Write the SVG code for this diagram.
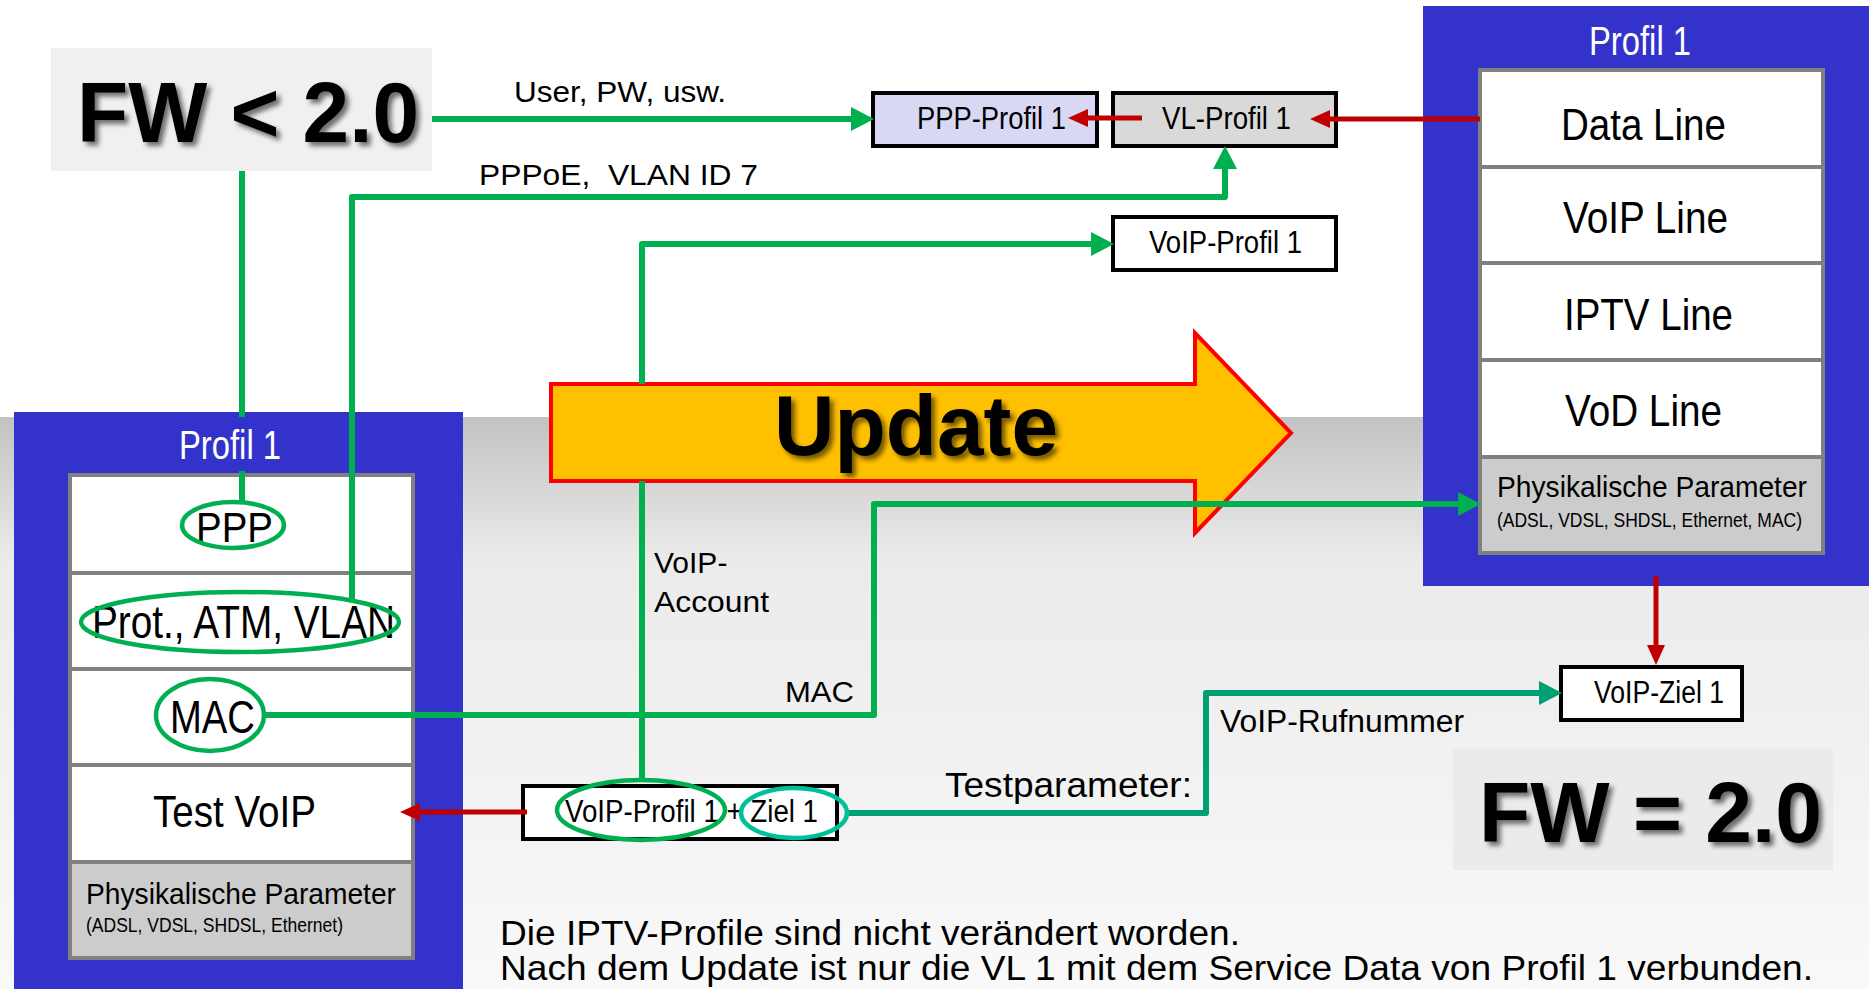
<svg xmlns="http://www.w3.org/2000/svg" width="1869" height="989" viewBox="0 0 1869 989">
<defs>
<linearGradient id="band" x1="0" y1="0" x2="0" y2="1">
<stop offset="0" stop-color="#c2c2c2"/>
<stop offset="0.25" stop-color="#ebebeb"/>
<stop offset="0.6" stop-color="#f1f1f1"/>
<stop offset="1" stop-color="#f9f9f9"/>
</linearGradient>
<filter id="sh" x="-10%" y="-20%" width="130%" height="150%">
<feDropShadow dx="4" dy="4" stdDeviation="2.5" flood-color="#000" flood-opacity="0.55"/>
</filter>
<marker id="ag" markerUnits="userSpaceOnUse" markerWidth="24" markerHeight="24" refX="0" refY="12" orient="auto" viewBox="0 0 24 24">
<path d="M0,0 L23,12 L0,24 z" fill="#00b050"/>
</marker>
<marker id="at" markerUnits="userSpaceOnUse" markerWidth="24" markerHeight="24" refX="0" refY="12" orient="auto" viewBox="0 0 24 24">
<path d="M0,0 L23,12 L0,24 z" fill="#009e73"/>
</marker>
<marker id="ar" markerUnits="userSpaceOnUse" markerWidth="20" markerHeight="18" refX="0" refY="9" orient="auto" viewBox="0 0 20 18">
<path d="M0,0 L20,9 L0,18 z" fill="#c00000"/>
</marker>
</defs>
<style>
.t{font-family:"Liberation Sans",Arial,sans-serif;fill:#000}
.w{fill:#fff}
.b{font-weight:bold}
.panel{fill:#3333cc}
.row{fill:#fff;stroke:#808080;stroke-width:4}
.phys{fill:#cccccc;stroke:#808080;stroke-width:4}
.box{stroke:#000;stroke-width:4}
.g{fill:none;stroke:#00b050;stroke-width:6;stroke-linejoin:round}
.tl{fill:none;stroke:#009e73;stroke-width:6;stroke-linejoin:round}
.r{fill:none;stroke:#c00000;stroke-width:5}
.el{fill:none;stroke:#00b050;stroke-width:4.5}
.el2{fill:none;stroke:#00c09a;stroke-width:4.5}
</style>
<rect x="0" y="0" width="1869" height="989" fill="#fff"/>
<rect x="0" y="417" width="1869" height="572" fill="url(#band)"/>

<g id="fw-old">
<rect x="51" y="48" width="381" height="123" fill="#f0f0f0"/>
<text class="t b" x="77" y="142" font-size="86" textLength="342" lengthAdjust="spacingAndGlyphs" filter="url(#sh)">FW &lt; 2.0</text>
</g>

<g id="fw-new">
<rect x="1453" y="748" width="380" height="122" fill="#ebebeb"/>
<text class="t b" x="1479" y="842" font-size="86" textLength="343" lengthAdjust="spacingAndGlyphs" filter="url(#sh)">FW = 2.0</text>
</g>

<g id="profil-left">
<rect class="panel" x="14" y="412" width="449" height="577"/>
<text class="t w" x="179" y="459" font-size="40" textLength="102" lengthAdjust="spacingAndGlyphs">Profil 1</text>
<rect class="row" x="70" y="475" width="343" height="98"/>
<rect class="row" x="70" y="573" width="343" height="96"/>
<rect class="row" x="70" y="669" width="343" height="96"/>
<rect class="row" x="70" y="765" width="343" height="97"/>
<rect class="phys" x="70" y="862" width="343" height="96"/>
<text class="t" x="196" y="542" font-size="43" textLength="77" lengthAdjust="spacingAndGlyphs">PPP</text>
<text class="t" x="92" y="638" font-size="46" textLength="303" lengthAdjust="spacingAndGlyphs">Prot., ATM, VLAN</text>
<text class="t" x="170" y="733" font-size="46" textLength="85" lengthAdjust="spacingAndGlyphs">MAC</text>
<text class="t" x="153" y="827" font-size="45" textLength="163" lengthAdjust="spacingAndGlyphs">Test VoIP</text>
<text class="t" x="86" y="904" font-size="30" textLength="310" lengthAdjust="spacingAndGlyphs">Physikalische Parameter</text>
<text class="t" x="86" y="932" font-size="20" textLength="257" lengthAdjust="spacingAndGlyphs">(ADSL, VDSL, SHDSL, Ethernet)</text>
</g>

<g id="profil-right">
<rect class="panel" x="1423" y="6" width="446" height="580"/>
<text class="t w" x="1589" y="55" font-size="40" textLength="102" lengthAdjust="spacingAndGlyphs">Profil 1</text>
<rect class="row" x="1480" y="70" width="343" height="97"/>
<rect class="row" x="1480" y="167" width="343" height="96"/>
<rect class="row" x="1480" y="263" width="343" height="97"/>
<rect class="row" x="1480" y="360" width="343" height="97"/>
<rect class="phys" x="1480" y="457" width="343" height="96"/>
<text class="t" x="1561" y="140" font-size="45" textLength="165" lengthAdjust="spacingAndGlyphs">Data Line</text>
<text class="t" x="1563" y="233" font-size="45" textLength="165" lengthAdjust="spacingAndGlyphs">VoIP Line</text>
<text class="t" x="1564" y="330" font-size="45" textLength="169" lengthAdjust="spacingAndGlyphs">IPTV Line</text>
<text class="t" x="1565" y="426" font-size="45" textLength="157" lengthAdjust="spacingAndGlyphs">VoD Line</text>
<text class="t" x="1497" y="497" font-size="30" textLength="310" lengthAdjust="spacingAndGlyphs">Physikalische Parameter</text>
<text class="t" x="1497" y="527" font-size="20" textLength="305" lengthAdjust="spacingAndGlyphs">(ADSL, VDSL, SHDSL, Ethernet, MAC)</text>
</g>

<g id="ppp-profil">
<rect class="box" x="873" y="93" width="224" height="53" fill="#d8d8f4"/>
<text class="t" x="917" y="129" font-size="31" textLength="149" lengthAdjust="spacingAndGlyphs">PPP-Profil 1</text>
</g>
<g id="vl-profil">
<rect class="box" x="1113" y="93" width="223" height="53" fill="#d9d9d9"/>
<text class="t" x="1162" y="129" font-size="31" textLength="129" lengthAdjust="spacingAndGlyphs">VL-Profil 1</text>
</g>
<g id="voip-profil-top">
<rect class="box" x="1113" y="217" width="223" height="53" fill="#fff"/>
<text class="t" x="1149" y="253" font-size="31" textLength="153" lengthAdjust="spacingAndGlyphs">VoIP-Profil 1</text>
</g>
<g id="voip-ziel">
<rect class="box" x="1561" y="667" width="181" height="53" fill="#fff"/>
<text class="t" x="1594" y="703" font-size="31" textLength="130" lengthAdjust="spacingAndGlyphs">VoIP-Ziel 1</text>
</g>
<g id="voip-test">
<rect class="box" x="523" y="786" width="314" height="53" fill="#fff"/>
<text class="t" x="565" y="822" font-size="31" textLength="253" lengthAdjust="spacingAndGlyphs">VoIP-Profil 1 + Ziel 1</text>
</g>

<g id="update">
<path d="M551,384 H1195 V333 L1291,433 L1195,533 V481 H551 z" fill="#ffc000" stroke="#ff0000" stroke-width="4"/>
<text class="t b" x="774" y="455" font-size="85" textLength="284" lengthAdjust="spacingAndGlyphs" filter="url(#sh)">Update</text>
</g>

<g id="connectors">
<path class="g" d="M432,119 H851" marker-end="url(#ag)"/>
<path class="g" d="M242,171 V417"/>
<path class="g" d="M242,471 V502"/>
<path class="g" d="M352,601 V197 H1225 V169" marker-end="url(#ag)"/>
<path class="g" d="M642,780 V481"/>
<path class="g" d="M642,384 V244 H1091" marker-end="url(#ag)"/>
<path class="g" d="M265,715 H874 V504 H1458" marker-end="url(#ag)"/>
<path class="tl" d="M848,813 H1206 V693 H1539" marker-end="url(#at)"/>
<path class="r" d="M1480,119 H1330" marker-end="url(#ar)"/>
<path class="r" d="M1142,118 H1088" marker-end="url(#ar)"/>
<path class="r" d="M527,812 H420" marker-end="url(#ar)"/>
<path class="r" d="M1656,576 V645" marker-end="url(#ar)"/>
<ellipse class="el" cx="233" cy="525" rx="51" ry="23"/>
<ellipse class="el" cx="240" cy="622" rx="159" ry="30"/>
<ellipse class="el" cx="210" cy="715" rx="54" ry="36"/>
<ellipse class="el" cx="641" cy="810" rx="84" ry="30"/>
<ellipse class="el2" cx="794" cy="813" rx="53" ry="25"/>
</g>

<g id="labels">
<text class="t" x="514" y="102" font-size="29" textLength="212" lengthAdjust="spacingAndGlyphs">User, PW, usw.</text>
<text class="t" x="479" y="185" font-size="29" textLength="279" lengthAdjust="spacingAndGlyphs" xml:space="preserve">PPPoE,  VLAN ID 7</text>
<text class="t" x="654" y="573" font-size="30">VoIP-</text>
<text class="t" x="654" y="612" font-size="30" textLength="115" lengthAdjust="spacingAndGlyphs">Account</text>
<text class="t" x="785" y="702" font-size="30" textLength="69" lengthAdjust="spacingAndGlyphs">MAC</text>
<text class="t" x="945" y="797" font-size="35" textLength="247" lengthAdjust="spacingAndGlyphs">Testparameter:</text>
<text class="t" x="1220" y="732" font-size="31" textLength="244" lengthAdjust="spacingAndGlyphs">VoIP-Rufnummer</text>
<text class="t" x="500" y="945" font-size="35" textLength="740" lengthAdjust="spacingAndGlyphs">Die IPTV-Profile sind nicht verändert worden.</text>
<text class="t" x="500" y="980" font-size="35" textLength="1313" lengthAdjust="spacingAndGlyphs">Nach dem Update ist nur die VL 1 mit dem Service Data von Profil 1 verbunden.</text>
</g>
</svg>
